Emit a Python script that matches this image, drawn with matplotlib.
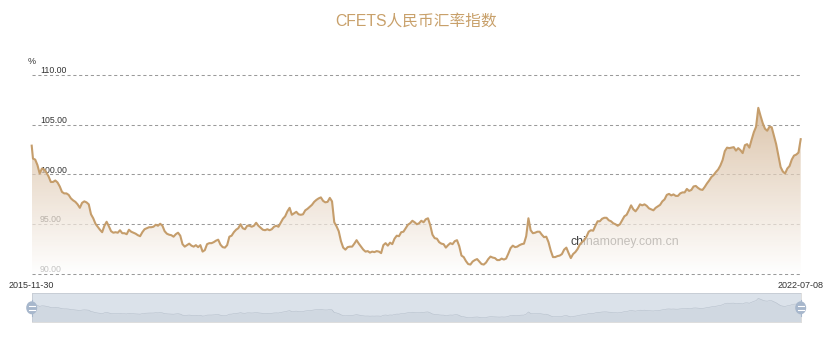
import matplotlib
matplotlib.use("Agg")
import matplotlib.pyplot as plt
import matplotlib.dates as mdates
import matplotlib.patches as mpatches
import matplotlib.lines as mlines
import matplotlib.transforms as mtransforms
import numpy as np
import pandas as pd

plt.rcParams['font.family'] = ['Liberation Sans', 'Noto Sans CJK SC', 'DejaVu Sans']

# ---------------- data ----------------
title = 'CFETS人民币汇率指数'
start_date = '2015-11-30'
first_friday = '2015-12-04'
end_date = '2022-07-08'
unit_label = '%'
watermark = 'chinamoney.com.cn'
y_ticks = [90, 95, 100, 105, 110]
y_tick_labels = ['90.00', '95.00', '100.00', '105.00', '110.00']

cfets_values = [
    102.9, 101.6, 101.5, 100.95, 100.1, 100.6, 100.5, 100.2, 99.8, 99.25,
    99.25, 99.4, 99.2, 98.8, 98.25, 98.1, 98.1, 97.95, 97.6, 97.4,
    97.25, 97.0, 96.65, 97.15, 97.3, 97.2, 97.0, 96.0, 95.6, 95.05,
    94.75, 94.45, 94.2, 94.85, 95.25, 94.8, 94.3, 94.15, 94.2, 94.15,
    94.4, 94.1, 94.1, 94.0, 94.45, 94.25, 94.15, 94.05, 93.9, 93.8,
    94.2, 94.5, 94.6, 94.7, 94.7, 94.75, 94.95, 94.85, 95.05, 94.85,
    94.3, 94.05, 93.95, 93.9, 93.75, 94.0, 94.15, 93.85, 93.0, 92.75,
    92.9, 93.05, 92.85, 92.75, 92.9, 92.7, 92.9, 92.25, 92.4, 93.0,
    93.1, 93.1, 93.2, 93.35, 93.45, 92.95, 92.7, 92.65, 92.9, 93.75,
    93.85, 94.2, 94.45, 94.6, 95.0, 94.6, 94.5, 94.85, 94.85, 94.75,
    94.85, 95.15, 94.85, 94.65, 94.45, 94.4, 94.5, 94.4, 94.5, 94.75,
    94.85, 94.75, 95.15, 95.55, 95.8, 96.3, 96.65, 95.95, 96.1, 96.25,
    96.0, 95.95, 96.0, 96.4, 96.55, 96.75, 96.95, 97.25, 97.45, 97.6,
    97.7, 97.35, 97.2, 97.25, 97.65, 97.3, 95.2, 94.8, 94.3, 93.3,
    92.65, 92.45, 92.7, 92.75, 92.75, 93.05, 93.4, 93.05, 92.75, 92.45,
    92.25, 92.3, 92.15, 92.25, 92.2, 92.3, 92.25, 92.1, 92.9, 93.1,
    92.85, 93.15, 93.0, 93.55, 93.85, 93.8, 94.2, 94.25, 94.6, 94.95,
    95.1, 95.35, 95.2, 95.0, 95.1, 95.35, 95.2, 95.5, 95.6, 94.9,
    93.95, 93.6, 93.55, 93.2, 93.05, 93.0, 92.65, 92.9, 93.1, 93.0,
    93.3, 93.4, 92.8, 91.85, 91.7, 91.3, 91.0, 90.95, 91.25, 91.4,
    91.5, 91.25, 91.0, 90.95, 91.15, 91.5, 91.75, 91.65, 91.6, 91.4,
    91.4, 91.55, 91.45, 91.55, 92.05, 92.6, 92.85, 92.7, 92.75, 92.9,
    93.0, 93.05, 93.8, 95.6, 94.4, 94.1, 94.15, 94.25, 94.25, 93.95,
    93.7, 93.75, 93.2, 92.35, 91.7, 91.7, 91.8, 91.85, 92.0, 92.45,
    92.65, 92.1, 91.6, 92.0, 92.2, 92.5, 92.95, 93.2, 93.4, 93.75,
    94.25, 94.4, 94.35, 94.85, 95.3, 95.3, 95.55, 95.65, 95.65, 95.4,
    95.3, 95.1, 95.0, 94.85, 95.0, 95.4, 95.8, 95.95, 96.4, 96.9,
    96.5, 96.3, 96.6, 97.0, 96.9, 97.0, 96.85, 96.6, 96.5, 96.4,
    96.65, 96.8, 96.95, 97.3, 97.5, 97.95, 98.05, 97.9, 98.0, 97.85,
    97.85, 98.1, 98.2, 98.2, 98.55, 98.35, 98.45, 98.8, 98.85, 98.65,
    98.5, 98.45, 98.75, 99.1, 99.4, 99.75, 99.95, 100.25, 100.5, 100.9,
    101.45, 102.35, 102.7, 102.65, 102.7, 102.75, 102.4, 102.65, 102.45, 102.15,
    102.95, 103.05, 102.7, 103.5, 104.25, 104.8, 106.7, 105.9, 105.15, 104.6,
    104.4, 104.8, 104.75, 103.9, 103.05, 101.9, 100.75, 100.3, 100.1, 100.6,
    100.85, 101.5, 101.9, 102.0, 102.2, 103.55,
]

dates = pd.DatetimeIndex([pd.Timestamp(start_date)]).append(
    pd.date_range(first_friday, end_date, freq='W-FRI'))
values = np.array(cfets_values)

# ---------------- styling ----------------
W, H = 832, 339
line_color = '#c59d6b'
title_color = '#c8a06a'
grid_color = '#9a9a9a'
text_color = '#333333'

fig = plt.figure(figsize=(W / 100, H / 100), dpi=100)
fig.patch.set_facecolor('white')


def px_rect(x0, y0, x1, y1):
    return [x0 / W, 1 - y1 / H, (x1 - x0) / W, (y1 - y0) / H]


PL, PR, PT, PB = 31.7, 800.7, 75, 274
ax = fig.add_axes(px_rect(PL, PT, PR, PB))
ax.set_axis_off()

# grid lines
for v in y_ticks:
    ax.axhline(v, color=grid_color, lw=0.75, ls=(0, (3.0, 2.6)), zorder=0.5,
               clip_on=False)

# y labels (under the area fill, as in the reference)
for v, lab in zip(y_ticks, y_tick_labels):
    ax.annotate(lab, xy=(0, v), xycoords=('axes fraction', 'data'),
                xytext=(6, 1.4), textcoords='offset points',
                ha='left', va='baseline', fontsize=6.3, color=text_color,
                zorder=1)

# watermark (also under the fill)
ax.text(0.701, 0.161, watermark, transform=ax.transAxes, fontsize=8.8,
        color='#444444', ha='left', va='center', zorder=1)

# gradient area
xnum = mdates.date2num(dates)
vmax = values.max()
n = 256
t = np.linspace(0, 1, n)
top = np.array([208, 176, 141]) / 255.0
bot = np.array([255, 255, 255]) / 255.0
rgb = bot[None, :] + (top - bot)[None, :] * t[:, None]
rgba = np.zeros((n, 1, 4))
rgba[:, 0, :3] = rgb
rgba[:, 0, 3] = 0.72
im = ax.imshow(rgba, extent=[xnum[0], xnum[-1], 90, vmax], origin='lower',
               aspect='auto', zorder=2, interpolation='bilinear')
poly = ax.fill_between(xnum, values, 90, facecolor='none', edgecolor='none')
im.set_clip_path(poly.get_paths()[0], transform=ax.transData)

ax.plot(dates, values, color=line_color, lw=1.5, zorder=3,
        solid_joinstyle='round', clip_on=False)

ax.set_xlim(xnum[0], xnum[-1])
ax.set_ylim(90, 110)

# ---------------- slider (data zoom) ----------------
ST, SB = 293, 322
sax = fig.add_axes(px_rect(PL, ST, PR, SB))
sax.set_xlim(xnum[0], xnum[-1])
slo, shi = 87.4, 111.0
sax.set_ylim(slo, shi)
sax.fill_between(dates, values, slo, color=(47 / 255, 69 / 255, 84 / 255, 0.09),
                 lw=0)
sax.plot(dates, values, color=(47 / 255, 69 / 255, 84 / 255, 0.3), lw=0.4)
sax.add_patch(mpatches.Rectangle((0, 0), 1, 1, transform=sax.transAxes,
                                 facecolor=(167 / 255, 183 / 255, 204 / 255, 0.4),
                                 edgecolor='none', zorder=5))
sax.set_xticks([])
sax.set_yticks([])
for s in sax.spines.values():
    s.set_color('#dddddd')
    s.set_linewidth(0.7)

ident = mtransforms.IdentityTransform()
hy = H - 307.8
for hx in (PL, PR):
    fig.add_artist(mpatches.Ellipse((hx, hy), 11, 13, transform=ident,
                                    facecolor='#a7b7cc', edgecolor='none',
                                    zorder=10))
    for dy in (-1.8, 1.8):
        fig.add_artist(mlines.Line2D([hx - 3.2, hx + 3.2], [hy + dy, hy + dy],
                                     transform=ident, color='white', lw=0.8,
                                     zorder=11))
    fig.add_artist(mlines.Line2D([hx, hx], [hy + 6.5, hy + 8], transform=ident,
                                 color='#a7b7cc', lw=0.8, zorder=10))
    fig.add_artist(mlines.Line2D([hx, hx], [hy - 6.5, hy - 8], transform=ident,
                                 color='#a7b7cc', lw=0.8, zorder=10))

# range labels
fig.text(PL / W, 1 - 285.5 / H, dates[0].strftime('%Y-%m-%d'), ha='center',
         va='center', fontsize=6.5, color=text_color)
fig.text(PR / W, 1 - 285.5 / H, dates[-1].strftime('%Y-%m-%d'), ha='center',
         va='center', fontsize=6.5, color=text_color)

# unit label and title
fig.text(31.5 / W, 1 - 61 / H, unit_label, ha='center', va='center',
         fontsize=6.5, color=text_color)
fig.text(415.8 / W, 1 - 21 / H, title, ha='center', va='center',
         fontsize=11.3, color=title_color,
         family=['Liberation Sans', 'Noto Sans CJK SC'])

fig.savefig('out.png', dpi=100, facecolor='white')
